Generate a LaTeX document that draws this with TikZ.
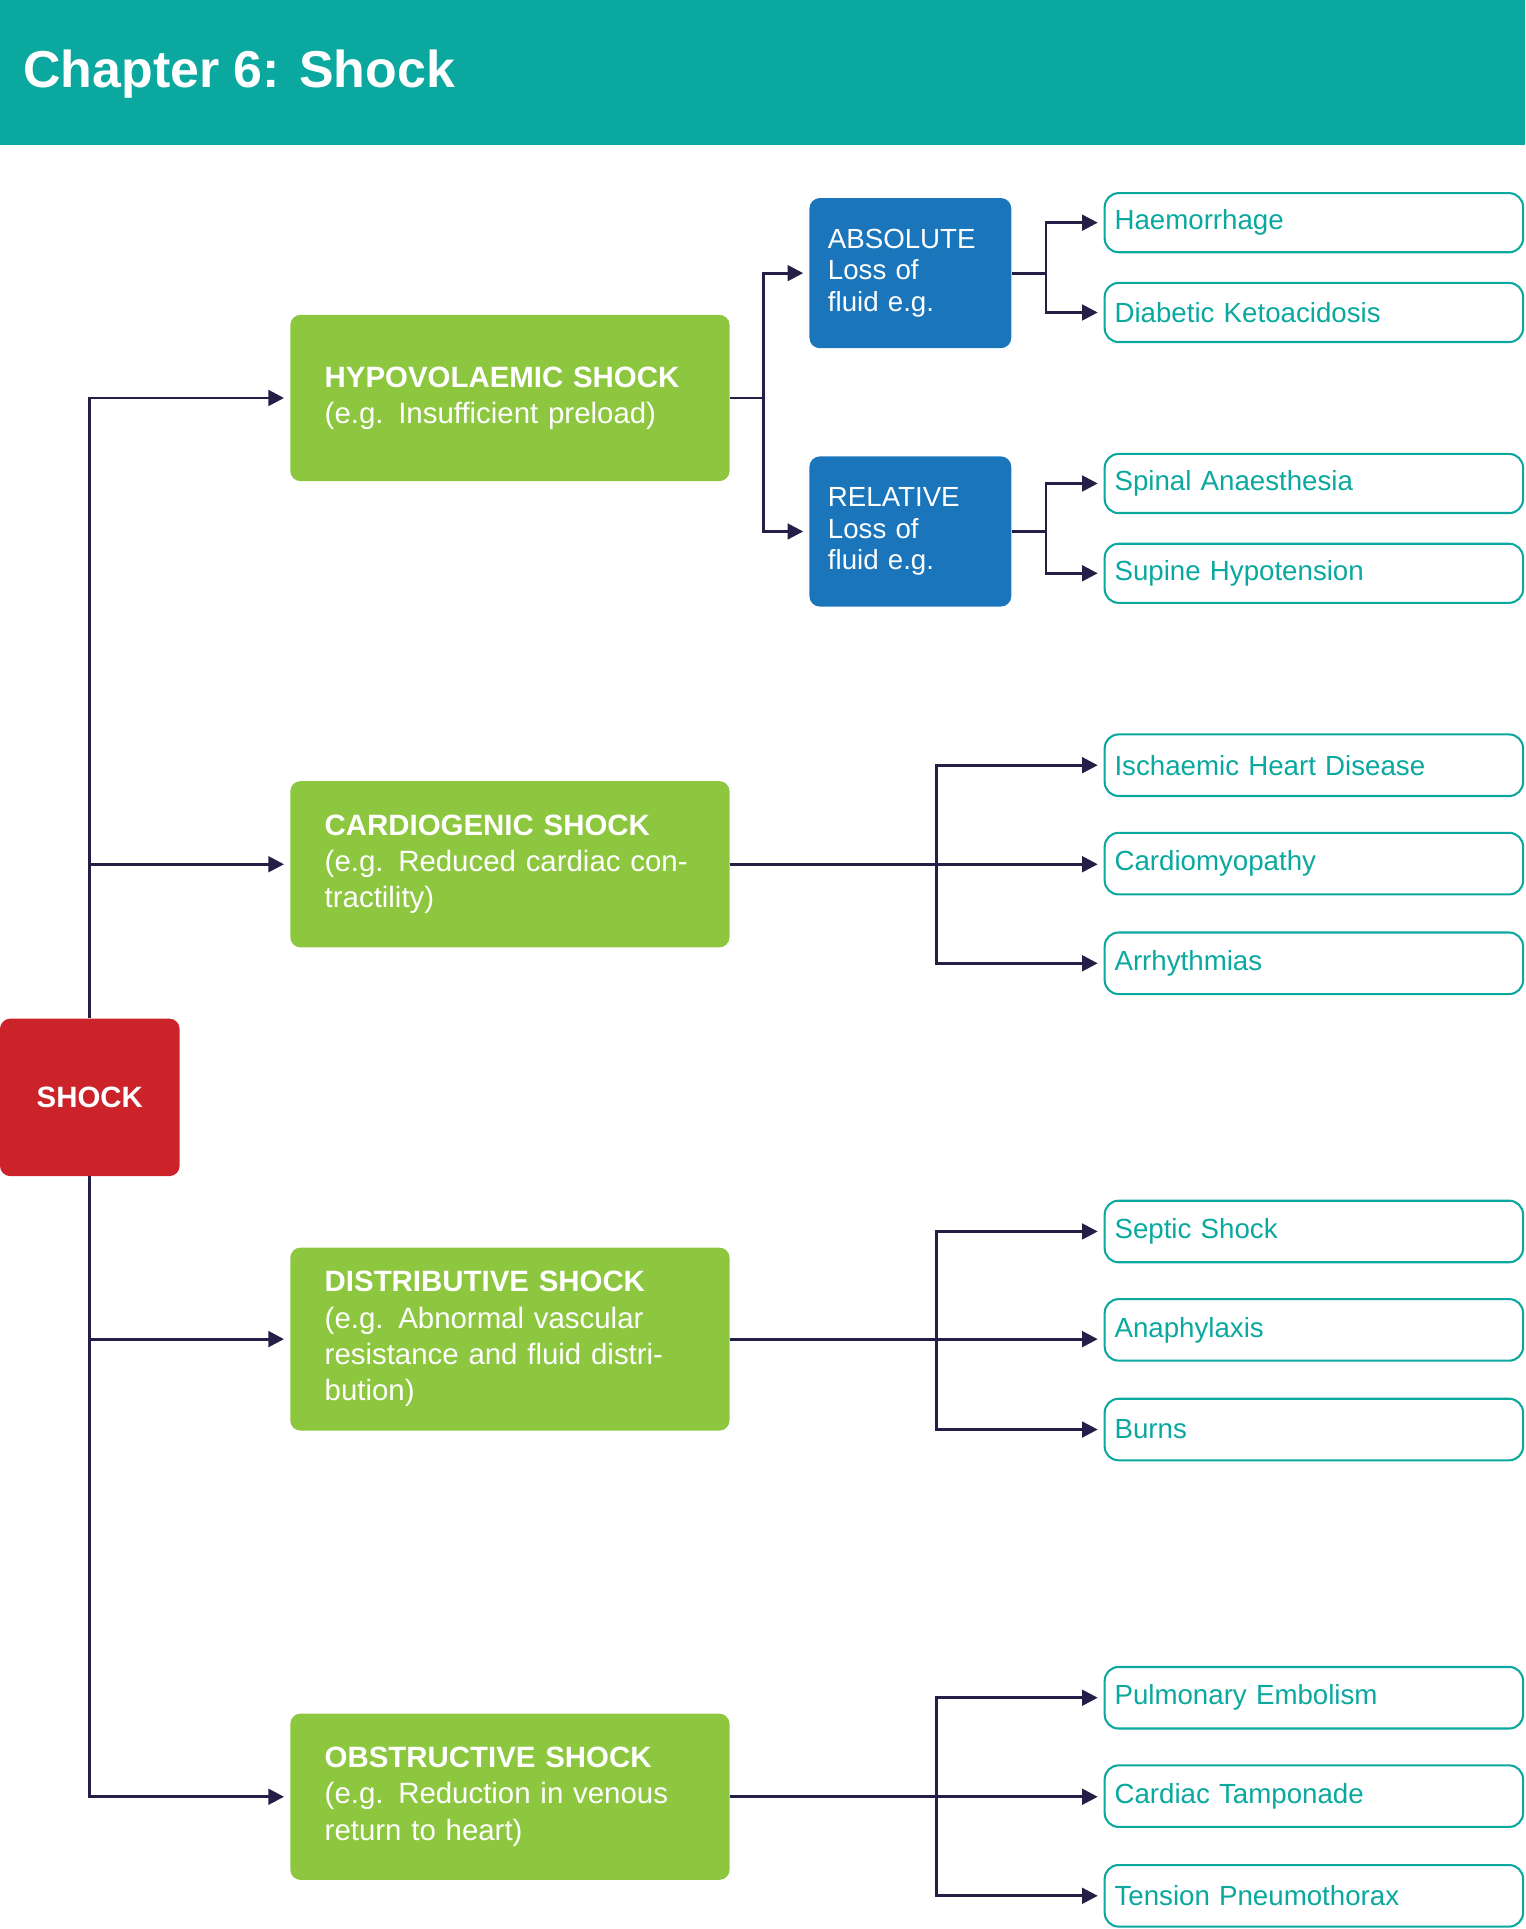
\documentclass[tikz,border=0pt]{standalone}
\usepackage{fontspec}
\setmainfont{Liberation Sans}
\usetikzlibrary{arrows.meta,positioning}
\definecolor{teal}{HTML}{0AA89E}
\definecolor{shockred}{HTML}{CC2229}
\definecolor{leaf}{HTML}{8DC63F}
\definecolor{deepblue}{HTML}{1A75BB}
\definecolor{navy}{HTML}{231F47}
\tikzset{
  group/.style={fill=leaf,rounded corners=6pt,text=white,align=left,text width=7.525cm,inner xsep=0.7cm,minimum height=#1,font=\fontsize{17}{21}\selectfont},
  kind/.style={fill=deepblue,rounded corners=6pt,text=white,align=left,text width=3.35cm,inner xsep=0.375cm,minimum height=3.05cm,font=\fontsize{16}{18}\selectfont},
  cause/.style={draw=teal,line width=1.2pt,rounded corners=8pt,text=teal,align=left,text width=8.1cm,inner xsep=0.2cm,minimum height=#1,font=\fontsize{16}{18}\selectfont},
  cause/.default=1.25cm,
  link/.style={draw=navy,line width=1.6pt},
  arr/.style={link,-{Triangle[length=9pt,width=9pt]},shorten >=0.12cm}
}
\begin{document}
\begin{tikzpicture}[x=0.025cm,y=-0.025cm]
\useasboundingbox (0,0) rectangle (1240,1568);
\fill[teal] (0,0) rectangle (1240,118);
\node[anchor=west,text=white,font=\fontsize{30}{36}\selectfont\bfseries] (title) at (14,60) {Chapter 6: Shock};
% root
\node[fill=shockred,rounded corners=6pt,text=white,minimum width=3.65cm,minimum height=3.2cm,font=\fontsize{17}{21}\selectfont\bfseries] (shock) at (73,892) {SHOCK};
% groups
\node[group=3.38cm] (hypo) at (414.5,323.5) {\textbf{HYPOVOLAEMIC SHOCK}\\(e.g. Insufficient preload)};
\node[group=3.38cm] (cardio) at (414.5,702.5) {\textbf{CARDIOGENIC SHOCK}\\(e.g. Reduced cardiac contractility)};
\node[group=3.72cm] (distrib) at (414.5,1088.5) {\textbf{DISTRIBUTIVE SHOCK}\\(e.g. Abnormal vascular resistance and fluid distribution)};
\node[group=3.38cm] (obstr) at (414.5,1460.5) {\textbf{OBSTRUCTIVE SHOCK}\\(e.g. Reduction in venous return to heart)};
% kinds
\node[kind] (absol) at (740,222) {ABSOLUTE\\Loss of\\fluid e.g.};
\node[kind] (relat) at (740,432) {RELATIVE\\Loss of\\fluid e.g.};
% causes
\node[cause=1.2cm] (haem) at (1068,181) {Haemorrhage};
\node[cause=1.2cm] (dka) at (1068,254) {Diabetic Ketoacidosis};
\node[cause=1.2cm] (spinal) at (1068,393) {Spinal Anaesthesia};
\node[cause=1.2cm] (supine) at (1068,466) {Supine Hypotension};
\node[cause] (isch) at (1068,622) {Ischaemic Heart Disease};
\node[cause] (cmyo) at (1068,702) {Cardiomyopathy};
\node[cause] (arrhy) at (1068,783) {Arrhythmias};
\node[cause] (septic) at (1068,1001) {Septic Shock};
\node[cause] (anaph) at (1068,1081) {Anaphylaxis};
\node[cause] (burns) at (1068,1162) {Burns};
\node[cause] (pe) at (1068,1380) {Pulmonary Embolism};
\node[cause] (tamp) at (1068,1460) {Cardiac Tamponade};
\node[cause] (tens) at (1068,1541) {Tension Pneumothorax};
% trunk
\draw[arr] (shock.north) |- (hypo.west);
\draw[arr] (shock.north) |- (cardio.west);
\draw[arr] (shock.south) |- (distrib.west);
\draw[arr] (shock.south) |- (obstr.west);
% hypovolaemic
\draw[link] (hypo.east) -- ++(27,0) coordinate (hb);
\draw[arr] (hb) |- (absol.west);
\draw[arr] (hb) |- (relat.west);
\draw[link] (absol.east) -- ++(28,0) coordinate (ab);
\draw[arr] (ab) |- (haem.west);
\draw[arr] (ab) |- (dka.west);
\draw[link] (relat.east) -- ++(28,0) coordinate (rb);
\draw[arr] (rb) |- (spinal.west);
\draw[arr] (rb) |- (supine.west);
% the other groups
\foreach \g/\a/\b/\c in {cardio/isch/cmyo/arrhy,distrib/septic/anaph/burns,obstr/pe/tamp/tens}{
  \draw[arr] (\g.east) -- (\g.east -| \b.west);
  \coordinate (\g b) at (761,0 |- \b.west);
  \draw[arr] (\g b) |- (\a.west);
  \draw[arr] (\g b) |- (\c.west);
}
\end{tikzpicture}
\end{document}
